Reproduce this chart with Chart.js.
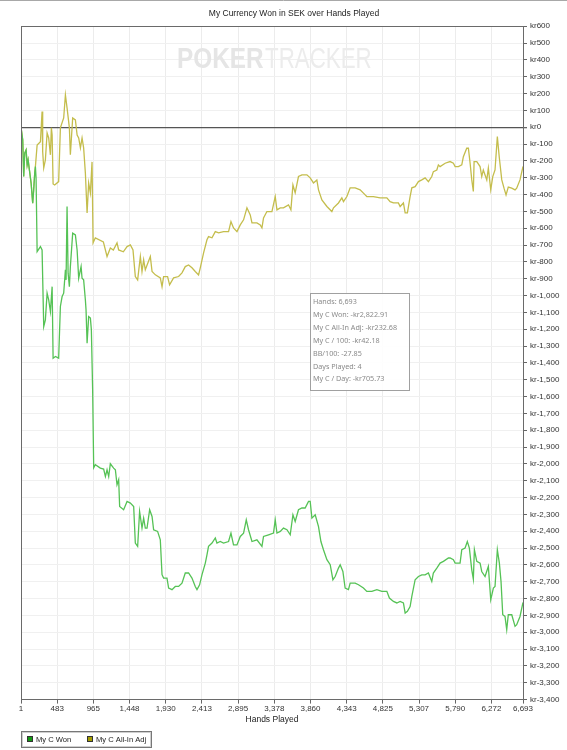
<!DOCTYPE html>
<html>
<head>
<meta charset="UTF-8">
<title>My Currency Won in SEK over Hands Played</title>
<script src="https://cdn.jsdelivr.net/npm/chart.js@4.4.1/dist/chart.umd.min.js"></script>
<style>
  body { margin: 0; background: #fff; overflow: hidden; }
</style>
</head>
<body>

<canvas id="myChart" width="567" height="750"></canvas>

<script>
// hands played (x) and running result in kr (y)
var wonHands = [1,24,37,51,69,83,96,113,136,157,170,184,193,202,216,260,282,304,326,349,370,393,416,429,460,503,526,549,570,593,602,615,629,646,659,690,726,749,770,802,815,836,859,868,882,903,926,939,956,970,992,1059,1103,1126,1148,1170,1192,1236,1259,1281,1303,1316,1369,1415,1459,1503,1525,1556,1582,1614,1636,1658,1681,1716,1748,1769,1822,1858,1881,1902,1947,1969,2014,2058,2102,2147,2191,2235,2280,2324,2347,2382,2414,2458,2480,2501,2547,2591,2613,2657,2701,2768,2800,2834,2880,2924,2968,3004,3034,3080,3146,3213,3234,3301,3367,3390,3413,3457,3500,3546,3590,3626,3656,3700,3746,3789,3834,3856,3879,3923,3967,3999,4033,4079,4123,4159,4189,4233,4256,4292,4322,4366,4389,4456,4500,4566,4611,4678,4745,4811,4878,4912,4966,5011,5055,5099,5122,5152,5188,5211,5255,5299,5344,5388,5432,5477,5498,5544,5588,5632,5699,5721,5765,5788,5854,5877,5921,5951,5978,6010,6031,6045,6077,6121,6143,6187,6231,6263,6298,6320,6351,6378,6400,6423,6453,6476,6497,6543,6587,6609,6653,6693];
var wonValues = [0,-75,-293,-154,-135,-224,-194,-253,-333,-451,-372,-273,-234,-303,-739,-709,-729,-1184,-1144,-986,-1025,-1095,-947,-1372,-1362,-1372,-1065,-1006,-986,-847,-907,-471,-867,-947,-828,-629,-640,-729,-897,-828,-897,-907,-1025,-1085,-1283,-1125,-1134,-1204,-1560,-2023,-2005,-2025,-2031,-2075,-2035,-2075,-1999,-2025,-2035,-2124,-2094,-2253,-2272,-2223,-2233,-2253,-2470,-2490,-2283,-2381,-2322,-2381,-2381,-2272,-2312,-2391,-2401,-2451,-2658,-2678,-2678,-2737,-2747,-2728,-2728,-2708,-2648,-2648,-2678,-2728,-2747,-2718,-2658,-2589,-2540,-2490,-2470,-2440,-2470,-2461,-2470,-2461,-2411,-2481,-2481,-2431,-2411,-2332,-2391,-2461,-2451,-2490,-2431,-2421,-2411,-2332,-2411,-2401,-2381,-2391,-2421,-2302,-2342,-2272,-2262,-2262,-2223,-2223,-2322,-2302,-2372,-2461,-2510,-2569,-2599,-2688,-2669,-2619,-2599,-2639,-2737,-2747,-2708,-2708,-2718,-2737,-2757,-2757,-2747,-2757,-2757,-2797,-2817,-2826,-2817,-2826,-2886,-2876,-2847,-2787,-2688,-2669,-2659,-2659,-2648,-2698,-2648,-2619,-2589,-2579,-2559,-2559,-2569,-2589,-2589,-2510,-2500,-2461,-2500,-2629,-2684,-2510,-2579,-2589,-2639,-2669,-2609,-2807,-2737,-2728,-2510,-2589,-2698,-2896,-2906,-2985,-2896,-2896,-2965,-2955,-2906,-2823];

var adjHands = [1,24,37,51,69,83,96,113,136,157,170,184,193,216,260,282,290,304,326,349,370,393,406,416,429,450,503,526,570,593,615,646,659,690,726,749,770,793,815,836,859,882,903,926,948,962,992,1099,1148,1192,1232,1281,1303,1365,1415,1459,1494,1525,1556,1592,1614,1636,1658,1725,1748,1792,1858,1881,1902,1955,1982,2035,2102,2147,2191,2235,2280,2324,2368,2391,2435,2480,2501,2547,2591,2635,2701,2768,2800,2834,2880,2924,2968,3013,3057,3080,3146,3190,3213,3234,3279,3346,3390,3413,3457,3500,3567,3599,3626,3656,3700,3746,3812,3856,3900,3945,3967,4012,4079,4145,4167,4233,4278,4300,4345,4389,4456,4522,4589,4611,4699,4789,4878,4922,4966,5032,5055,5099,5122,5152,5188,5211,5255,5299,5344,5388,5432,5477,5498,5544,5565,5588,5655,5721,5765,5788,5832,5877,5898,5943,5965,5988,6010,6031,6041,6077,6121,6143,6164,6210,6231,6263,6290,6320,6351,6378,6410,6440,6467,6497,6543,6587,6609,6653,6693];
var adjValues = [0,-75,-293,-154,-135,-224,-194,-253,-333,-451,-372,-273,-234,-106,-86,93,-145,-242,-194,-34,-64,-164,-4,-46,-337,-343,-323,-4,55,192,115,-4,-164,55,43,-46,-64,-123,-64,-123,-271,-509,-331,-390,-206,-687,-657,-681,-768,-717,-729,-687,-729,-740,-709,-699,-729,-887,-907,-768,-857,-788,-847,-768,-857,-877,-895,-947,-887,-887,-936,-895,-887,-865,-828,-818,-835,-857,-877,-835,-746,-669,-650,-657,-620,-628,-620,-620,-561,-598,-620,-580,-550,-479,-521,-568,-568,-580,-598,-539,-501,-501,-412,-491,-479,-479,-461,-491,-343,-390,-293,-283,-283,-301,-331,-313,-372,-432,-471,-501,-479,-450,-420,-442,-412,-360,-360,-372,-402,-412,-412,-420,-420,-442,-450,-450,-471,-450,-509,-509,-412,-360,-353,-323,-313,-301,-323,-293,-264,-254,-224,-234,-214,-204,-214,-234,-234,-224,-175,-125,-125,-214,-313,-382,-204,-204,-234,-293,-254,-313,-243,-372,-293,-254,-56,-184,-313,-362,-402,-356,-362,-372,-362,-313,-233];

var seriesNames = ['My C Won', 'My C All-In Adj'];
var xTickValues = [1,483,965,1448,1930,2413,2895,3378,3860,4343,4825,5307,5790,6272,6693];
var infoLines = ['Hands: 6,693', 'My C Won: -kr2,822.91', 'My C All-In Adj: -kr232.68',
                 'My C / 100: -kr42.18', 'BB/100: -27.85', 'Days Played: 4', 'My C / Day: -kr705.73'];

var axisFont = "'Liberation Sans', Arial, sans-serif";

function toPoints(xs, ys) {
  var pts = [];
  for (var i = 0; i < xs.length; i++) pts.push({x: xs[i], y: ys[i]});
  return pts;
}

// watermark, plot frame, info box and legend box
var extras = {
  id: 'extras',
  beforeDatasetsDraw: function (chart) {
    var ctx = chart.ctx;
    ctx.save();
    ctx.textBaseline = 'alphabetic';
    // condensed lettering: squeeze horizontally
    ctx.translate(177, 68);
    ctx.scale(0.84, 1);
    ctx.fillStyle = '#e5e5e5';
    ctx.font = "bold 29px 'Liberation Sans', Arial, sans-serif";
    ctx.fillText('POKER', 0, 0);
    ctx.restore();
    ctx.save();
    ctx.translate(265, 68);
    ctx.scale(0.77, 1);
    ctx.fillStyle = '#ececec';
    ctx.font = "29px 'Liberation Sans', Arial, sans-serif";
    ctx.fillText('TRACKER', 0, 0);
    ctx.restore();
  },
  afterDraw: function (chart) {
    var ctx = chart.ctx, a = chart.chartArea;
    ctx.save();
    // top page edge
    ctx.strokeStyle = '#a8a8a8';
    ctx.beginPath(); ctx.moveTo(0, 0.5); ctx.lineTo(567, 0.5); ctx.stroke();
    // frame
    ctx.strokeStyle = '#6a6a6a';
    ctx.lineWidth = 1;
    ctx.strokeRect(Math.round(a.left) + 0.5, Math.round(a.top) + 0.5,
                   Math.round(a.right - a.left), Math.round(a.bottom - a.top));

    // info box
    ctx.fillStyle = 'rgba(255,255,255,0.9)';
    ctx.fillRect(310, 293, 99, 97);
    ctx.strokeStyle = '#a0a0a0';
    ctx.strokeRect(310.5, 293.5, 99, 97);
    ctx.fillStyle = '#8a8a8a';
    ctx.font = "7.2px 'Noto Sans', sans-serif";
    ctx.textBaseline = 'middle';
    infoLines.forEach(function (t, i) { ctx.fillText(t, 313, 302 + i * 12.9); });

    // legend
    ctx.fillStyle = '#fff';
    ctx.fillRect(21, 731, 130, 16);
    ctx.strokeStyle = '#777';
    ctx.strokeRect(21.5, 731.5, 130, 16);
    ctx.strokeStyle = '#cfcfcf';
    ctx.strokeRect(22.5, 732.5, 128, 14);
    ctx.font = "7.6px " + axisFont;
    chart.data.datasets.forEach(function (ds, i) {
      var lx = 27 + i * 60;
      ctx.fillStyle = ds.legendColor;
      ctx.fillRect(lx, 736, 6, 6);
      ctx.strokeStyle = '#333';
      ctx.strokeRect(lx + 0.5, 736.5, 5, 5);
      ctx.fillStyle = '#222';
      ctx.fillText(ds.label, lx + 9, 739.5);
    });
    ctx.restore();
  }
};

var chart = new Chart(document.getElementById('myChart').getContext('2d'), {
  type: 'line',
  data: {
    datasets: [{
      label: seriesNames[0],
      data: toPoints(wonHands, wonValues),
      borderColor: '#55c255',
      legendColor: '#139a13',
      borderWidth: 1.3,
      pointRadius: 0,
      tension: 0
    }, {
      label: seriesNames[1],
      data: toPoints(adjHands, adjValues),
      borderColor: '#c4bd4c',
      legendColor: '#a39d00',
      borderWidth: 1.3,
      pointRadius: 0,
      tension: 0
    }]
  },
  options: {
    responsive: false,
    animation: false,
    devicePixelRatio: 1,
    layout: { padding: { left: 21, right: 0, top: 0, bottom: 22 } },
    plugins: {
      legend: { display: false },
      tooltip: { enabled: false },
      title: {
        display: true,
        text: 'My Currency Won in SEK over Hands Played',
        color: '#222',
        font: { family: axisFont, size: 8.5, weight: 'normal' },
        padding: { top: 9, bottom: 7 }
      }
    },
    scales: {
      x: {
        type: 'linear',
        min: 1,
        max: 6693,
        afterBuildTicks: function (s) {
          s.ticks = xTickValues.map(function (v) { return {value: v}; });
        },
        afterFit: function (s) { s.height = 750 - 22 - 699.6; },
        ticks: {
          autoSkip: false,
          maxRotation: 0,
          padding: 0,
          color: '#333',
          font: { family: axisFont, size: 8 },
          callback: function (v) { return v.toLocaleString('en-US'); }
        },
        grid: { color: '#ececec', tickColor: '#666', tickLength: 4 },
        border: { color: '#666' },
        title: {
          display: true,
          text: 'Hands Played',
          color: '#222',
          font: { family: axisFont, size: 8.5 },
          padding: { top: 0, bottom: 3.5 }
        }
      },
      y: {
        position: 'right',
        min: -3400,
        max: 600,
        afterFit: function (s) { s.width = 44; },
        ticks: {
          stepSize: 100,
          autoSkip: false,
          padding: 3,
          color: '#333',
          font: { family: axisFont, size: 8 },
          callback: function (v) { return 'kr' + v.toLocaleString('en-US'); }
        },
        grid: {
          color: function (c) { return c.tick && c.tick.value === 0 ? '#555' : '#f0f0f0'; },
          lineWidth: function (c) { return c.tick && c.tick.value === 0 ? 1.3 : 1; },
          tickColor: '#666',
          tickLength: 4
        },
        border: { color: '#666' }
      }
    }
  },
  plugins: [extras]
});
</script>

</body>
</html>
